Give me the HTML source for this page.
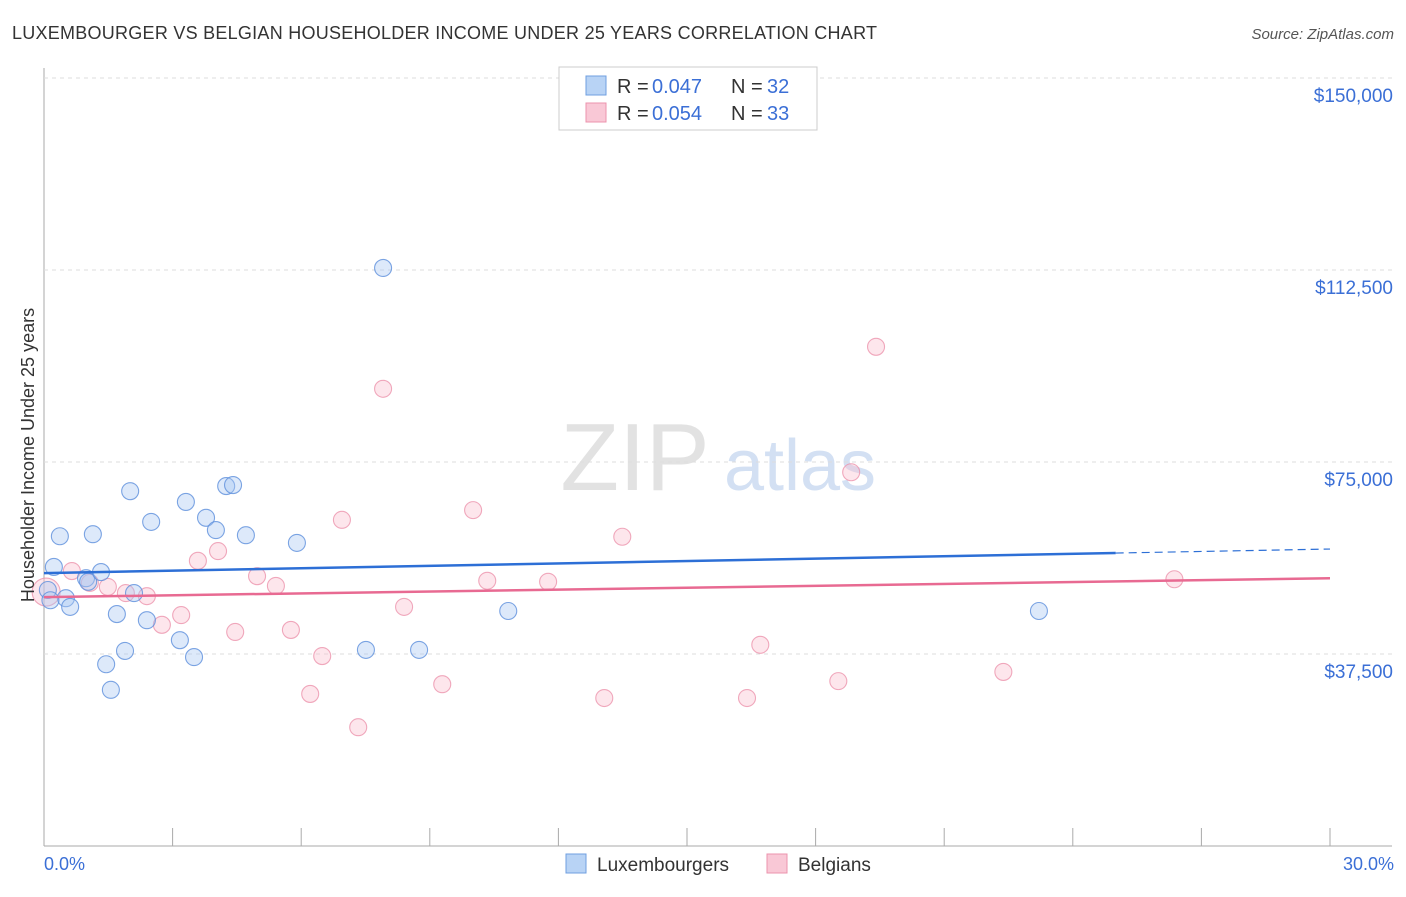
<!DOCTYPE html>
<html><head><meta charset="utf-8"><style>
body{margin:0;background:#fff;font-family:"Liberation Sans",sans-serif}
svg text{font-family:"Liberation Sans",sans-serif}
</style></head><body>
<svg id="c" width="1406" height="892" xmlns="http://www.w3.org/2000/svg">
<text x="12" y="39" font-size="18" fill="#333" textLength="865">LUXEMBOURGER VS BELGIAN HOUSEHOLDER INCOME UNDER 25 YEARS CORRELATION CHART</text>
<text x="1394" y="39" font-size="15" fill="#555" text-anchor="end" font-style="italic">Source: ZipAtlas.com</text>
<text x="635" y="490" font-size="96" fill="#e2e2e2" font-family="Liberation Serif" text-anchor="middle">ZIP</text>
<text x="800" y="490" font-size="72" fill="#d3e0f3" text-anchor="middle">atlas</text>
<g id="grid"></g><g id="marks"></g>
<text transform="translate(34,455) rotate(-90)" font-size="18" fill="#333" text-anchor="middle">Householder Income Under 25 years</text>
<text x="44" y="870" font-size="18" fill="#3b6fd6">0.0%</text>
<text x="1394" y="870" font-size="18" fill="#3b6fd6" text-anchor="end">30.0%</text>
<g>
<rect x="559" y="67" width="258" height="63" fill="#fff" stroke="#ccc"/>
<rect x="586" y="76" width="20" height="19" fill="#b8d3f5" stroke="#6f9fe0"/>
<rect x="586" y="103" width="20" height="19" fill="#f9c8d6" stroke="#ec93ad"/>
<text x="617" y="93" font-size="20" fill="#333">R =</text><text x="652" y="93" font-size="20" fill="#3b6fd6">0.047</text>
<text x="731" y="93" font-size="20" fill="#333">N =</text><text x="767" y="93" font-size="20" fill="#3b6fd6">32</text>
<text x="617" y="120" font-size="20" fill="#333">R =</text><text x="652" y="120" font-size="20" fill="#3b6fd6">0.054</text>
<text x="731" y="120" font-size="20" fill="#333">N =</text><text x="767" y="120" font-size="20" fill="#3b6fd6">33</text>
</g>
<g>
<rect x="566" y="854" width="20" height="19" fill="#b8d3f5" stroke="#6f9fe0"/>
<text x="597" y="871" font-size="19" fill="#333">Luxembourgers</text>
<rect x="767" y="854" width="20" height="19" fill="#f9c8d6" stroke="#ec93ad"/>
<text x="798" y="871" font-size="19" fill="#333">Belgians</text>
</g>
</svg>
<script>
const yTicks=[37500,75000,112500,150000];
const yTickLabels=["$37,500","$75,000","$112,500","$150,000"];
const luxX=[0.23,0.37,0.09,0.51,0.61,0.98,1.03,1.14,1.33,1.45,1.56,1.70,1.89,2.01,2.10,2.40,2.50,3.17,3.31,3.50,3.78,4.01,4.25,4.41,4.71,5.90,7.51,7.91,8.75,10.83,23.21,0.15];
const luxY=[54500,60500,50000,48400,46700,52300,51600,60900,53500,35500,30500,45300,38100,69300,49400,44100,63300,40200,67200,36900,64100,61700,70300,70500,60700,59200,38300,112900,38300,45900,45900,48000];
const belX=[0.05,0.65,1.07,1.49,1.91,2.40,2.75,3.20,3.59,4.06,4.46,4.97,5.41,5.76,6.21,6.49,6.95,7.33,7.91,8.40,9.29,10.01,10.34,11.76,13.07,13.49,16.40,16.71,18.53,18.83,19.41,22.38,26.37];
const belY=[49600,53700,51400,50600,49400,48800,43200,45100,55700,57600,41800,52700,50800,42200,29700,37100,63700,23200,89300,46700,31600,65600,51800,51600,28900,60400,28900,39300,32200,73000,97500,34000,52100];
const luxTrend=[53300,58000];
const belTrend=[48600,52300];
const X=v=>44+v/30*1286, Y=v=>846-v*192/37500;
const NS="http://www.w3.org/2000/svg";
function mk(t,a,p){const e=document.createElementNS(NS,t);for(const k in a)e.setAttribute(k,a[k]);p.appendChild(e);return e;}
const g=document.getElementById('grid'), m=document.getElementById('marks');
let ax=mk('line',{x1:44,y1:68,x2:44,y2:846,stroke:'#aaa'},g);

let bx=mk('line',{x1:44,y1:846,x2:1392,y2:846,stroke:'#aaa'},g);

for(let i=0;i<=10;i++){let t=mk('line',{x1:X(i*3),y1:828,x2:X(i*3),y2:846,stroke:'#aaa'},g);
}
yTicks.forEach((v,i)=>{let l=mk('line',{x1:44,y1:Y(v),x2:1392,y2:Y(v),stroke:'#ddd','stroke-dasharray':'4,4'},g);

let t=mk('text',{x:1393,y:Y(v)+24,'font-size':19,fill:'#3b6fd6','text-anchor':'end'},g);t.textContent=yTickLabels[i];
});
function pts(xs,ys,f,s,n){xs.forEach((x,i)=>{let c=mk('circle',{cx:X(x),cy:Y(ys[i]),r:(n==='belgian-point'&&i===0)?14:8.5,fill:f,'fill-opacity':0.4,stroke:s,'stroke-width':1.1,'stroke-opacity':0.8},m);
});}
pts(belX,belY,'#f9c0d0','#ec93ad','belgian-point');
pts(luxX,luxY,'#a9c9f2','#5c8fdc','luxembourger-point');
const bl=v=>belTrend[0]+(belTrend[1]-belTrend[0])*v/30, ll=v=>luxTrend[0]+(luxTrend[1]-luxTrend[0])*v/30;
let t1=mk('line',{x1:X(0),y1:Y(ll(0)),x2:X(25),y2:Y(ll(25)),stroke:'#2d6fd6','stroke-width':2.5},m);

let t2=mk('line',{x1:X(25),y1:Y(ll(25)),x2:X(30),y2:Y(ll(30)),stroke:'#2d6fd6','stroke-width':1.2,'stroke-dasharray':'8,5'},m);

let t3=mk('line',{x1:X(0),y1:Y(bl(0)),x2:X(30),y2:Y(bl(30)),stroke:'#e86a92','stroke-width':2.5},m);

</script>
</body></html>
